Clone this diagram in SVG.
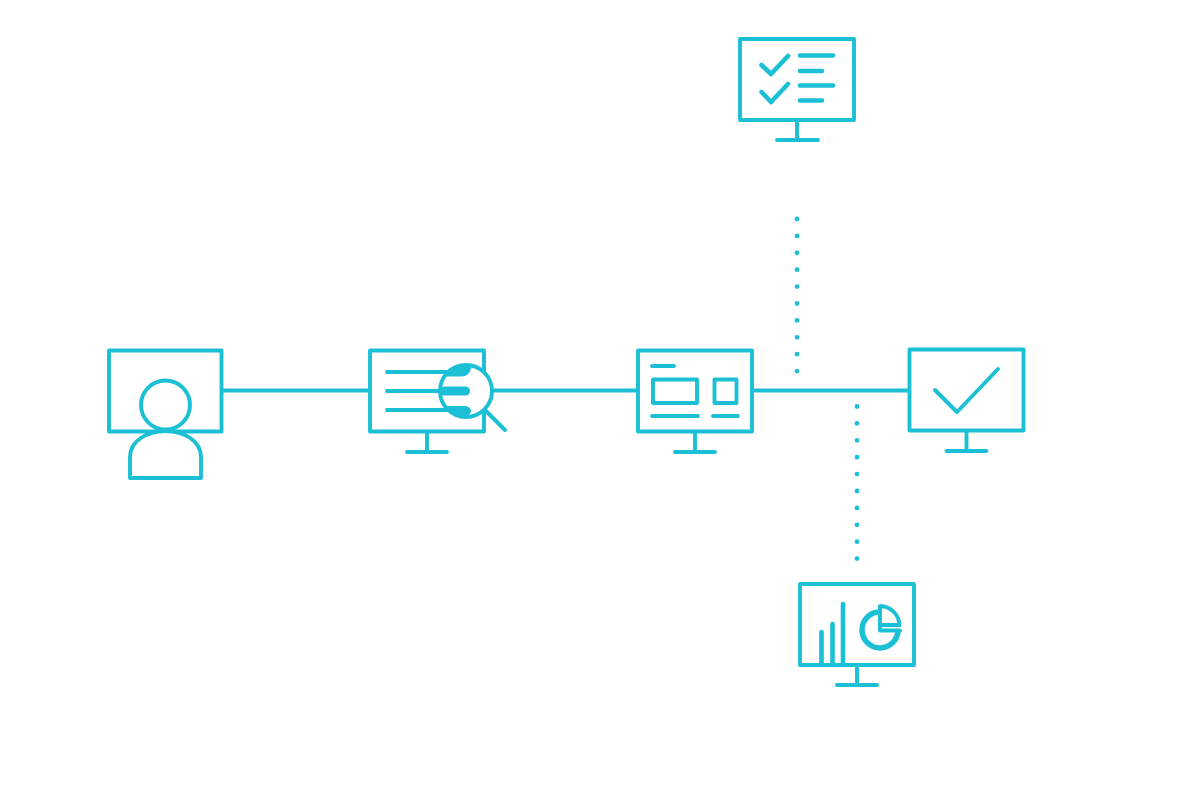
<svg xmlns="http://www.w3.org/2000/svg" width="1200" height="800" viewBox="0 0 1200 800">
<style>
.s{fill:none;stroke:#1cc0d6;stroke-width:3.900;stroke-linecap:round;stroke-linejoin:round}
.t{fill:none;stroke:#1cc0d6;stroke-width:4.600;stroke-linecap:round;stroke-linejoin:round}
.f{fill:#1cc0d6;stroke:none}
.d{fill:none;stroke:#1cc0d6;stroke-width:4.800;stroke-linecap:round;stroke-dasharray:0 16.9}
</style>
<defs>
<clipPath id="lens"><circle cx="466" cy="391" r="25"/></clipPath>
</defs>
<rect width="1200" height="800" fill="#fff"/>
<g id="connectors">
<path class="s" d="M222 390.500H369M492 390.500H637M752 390.500H909"/>
<path class="d" d="M797 219V373"/>
<path class="d" d="M857 406.500V560"/>
</g>
<g id="node-user">
<rect class="s" x="109" y="350.500" width="112.500" height="81"/>
<circle class="s" cx="165.500" cy="405" r="24.500"/>
<path class="s" d="M130 478V457C130 441 147 431 165.500 431S201 441 201 457V478Z" style="fill:#fff"/>
</g>
<g id="node-search">
<rect class="s" x="370" y="350.500" width="114" height="81"/>
<path class="s" d="M427 432V452M407 452H447"/>
<path class="s" d="M387 372H448M387 391H440M387 410H448"/>
<circle cx="466" cy="391" r="26" fill="#fff"/>
<g clip-path="url(#lens)">
<path class="f" d="M440 364H471V367C471 372 467 376.500 462 376.500H440Z"/>
<rect class="f" x="440" y="386.500" width="30" height="9" rx="4.500"/>
<path class="f" d="M440 406H465C468 406 471 408.500 471 411S468 416 465 416H452L458 420V422H440Z"/>
</g>
<circle class="s" cx="466" cy="391" r="26"/>
<path class="s" d="M486 411L505 430"/>
</g>
<g id="node-layout">
<rect class="s" x="638" y="350.500" width="114" height="81"/>
<path class="s" d="M695 432V452M675 452H715"/>
<path class="s" d="M652 366H674M652 416H698M713 416H738"/>
<rect class="s" x="653" y="379.500" width="44" height="23.500"/>
<rect class="s" x="714.500" y="379.500" width="22" height="23.500"/>
</g>
<g id="node-approved">
<rect class="s" x="909.500" y="349.500" width="114" height="81"/>
<path class="s" d="M966.500 431V451M946.500 451H986.500"/>
<path class="s" d="M935 390L957 412L998 369"/>
</g>
<g id="node-checklist">
<rect class="s" x="740" y="39" width="114" height="81"/>
<path class="s" d="M797 121V140M777 140H818"/>
<path class="t" d="M761.500 65L771 74L788 56M761.500 92L771 102L788 84"/>
<path class="t" d="M800 55.500H833M800 71H822M800 85.500H833M800 100.500H822"/>
</g>
<g id="node-charts">
<rect class="s" x="800" y="584" width="114" height="81"/>
<path class="s" d="M857 666V685M837 685H877"/>
<path class="t" d="M821.500 665V632M832.500 665V624M843 665V604"/>
<path d="M878 612A18 18 0 1 0 898 631" fill="none" stroke="#1cc0d6" stroke-width="5.500"/>
<path class="s" d="M880 606A20 20 0 0 1 899.500 625H880ZM880 625V630.500H900"/>
</g>
</svg>
